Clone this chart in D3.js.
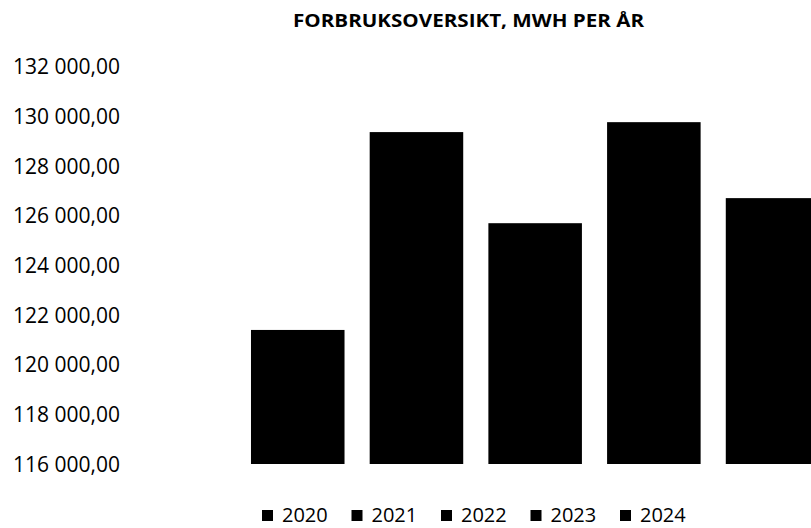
<!DOCTYPE html>
<html>
<head>
<meta charset="utf-8">
<script src="https://cdn.jsdelivr.net/npm/d3@7/dist/d3.min.js"></script>
<style>
  html, body { margin: 0; padding: 0; background: #fff; overflow: hidden; }
  svg { display: block; }
</style>
</head>
<body>
<svg id="chart" width="811" height="528"></svg>
<script>
const title = "FORBRUKSOVERSIKT, MWH PER ÅR";
const years = ["2020", "2021", "2022", "2023", "2024"];
const values = [121400, 129370, 125700, 129770, 126710];
const yTicks = [116000, 118000, 120000, 122000, 124000, 126000, 128000, 130000, 132000];
const yDomain = [116000, 132000];
const barColor = "#000000";

const svg = d3.select("#chart");
const W = 811, H = 528;
svg.append("rect").attr("width", W).attr("height", H).attr("fill", "#fff");

const x = d3.scaleBand().domain(years).range([238.4, 831.9]).paddingInner(0.212).paddingOuter(0.106);
const y = d3.scaleLinear().domain(yDomain).range([464, 66.8]);

// Title
svg.append("text")
  .attr("x", 468.5).attr("y", 27)
  .attr("text-anchor", "middle")
  .attr("font-family", "'Open Sans', sans-serif")
  .attr("font-weight", "bold")
  .attr("font-size", 18)
  .attr("textLength", 351)
  .attr("lengthAdjust", "spacingAndGlyphs")
  .attr("fill", "#000")
  .text(title);

// Y axis labels
const fmt = v => {
  const s = d3.format(",.2f")(v);
  return s.replace(/,/g, " ").replace(".", ",");
};
const yAxis = d3.axisLeft(y).tickValues(yTicks).tickSize(0).tickPadding(0).tickFormat(fmt);
const gy = svg.append("g").attr("transform", "translate(120,0)").call(yAxis);
gy.select(".domain").remove();
gy.selectAll("text")
  .attr("font-family", "'Open Sans', sans-serif")
  .attr("font-size", 21)
  .attr("fill", "#000")
  .attr("dy", "0.34em");

// Bars
svg.append("g").selectAll("rect")
  .data(years.map((yr, i) => ({ yr, v: values[i] })))
  .join("rect")
  .attr("x", d => x(d.yr))
  .attr("y", d => y(d.v))
  .attr("width", x.bandwidth())
  .attr("height", d => y(yDomain[0]) - y(d.v))
  .attr("fill", barColor);

// Legend
const legendX = d3.scalePoint().domain(years).range([262, 620]);
const lg = svg.append("g").selectAll("g")
  .data(years)
  .join("g")
  .attr("transform", d => `translate(${legendX(d)},0)`);
lg.append("rect")
  .attr("x", 0).attr("y", 510)
  .attr("width", 11).attr("height", 11)
  .attr("fill", barColor);
lg.append("text")
  .attr("x", 20).attr("y", 522)
  .attr("font-family", "'Open Sans', sans-serif")
  .attr("font-size", 20)
  .attr("fill", "#000")
  .text(d => d);
</script>
</body>
</html>
